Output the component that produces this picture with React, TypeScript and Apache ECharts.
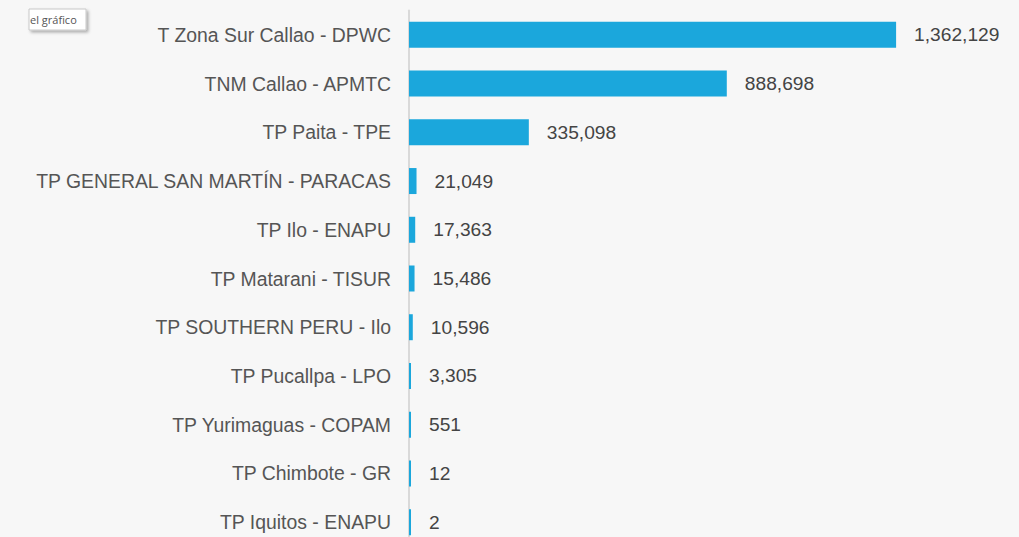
import React, { useEffect, useRef } from "react";
import * as echarts from "echarts";

const categories = [
  "T Zona Sur Callao - DPWC",
  "TNM Callao - APMTC",
  "TP Paita - TPE",
  "TP GENERAL SAN MARTÍN - PARACAS",
  "TP Ilo - ENAPU",
  "TP Matarani - TISUR",
  "TP SOUTHERN PERU - Ilo",
  "TP Pucallpa - LPO",
  "TP Yurimaguas - COPAM",
  "TP Chimbote - GR",
  "TP Iquitos - ENAPU",
];
const values = [1362129, 888698, 335098, 21049, 17363, 15486, 10596, 3305, 551, 12, 2];

export default function App() {
  const ref = useRef<HTMLDivElement>(null);
  useEffect(() => {
    if (!ref.current) return;
    const chart = echarts.init(ref.current, undefined, { renderer: "svg" });
    chart.setOption({
      animation: false,
      backgroundColor: "#f7f7f7",
      grid: { left: 409, top: 10.5, width: 560, height: 536 },
      xAxis: {
        type: "value",
        min: 0,
        max: 1566000,
        show: false,
      },
      yAxis: {
        type: "category",
        inverse: true,
        data: categories,
        axisLine: { show: true, lineStyle: { color: "#d9d9d9", width: 2 } },
        axisTick: { show: false },
        axisLabel: {
          margin: 18,
          fontSize: 19.4,
          color: "#555555",
          fontFamily: "Liberation Sans, Arial, sans-serif",
        },
      },
      series: [
        {
          type: "bar",
          data: values,
          barWidth: 26,
          barMinHeight: 2,
          itemStyle: { color: "#1ba7dc" },
          label: {
            show: true,
            position: "right",
            distance: 18,
            fontSize: 19.2,
            color: "#444444",
            fontFamily: "Liberation Sans, Arial, sans-serif",
            formatter: (p: any) => Number(p.value).toLocaleString("en-US"),
          },
        },
      ],
      graphic: [
        {
          type: "rect",
          shape: { x: 29, y: 9, width: 57, height: 21 },
          style: {
            fill: "#ffffff",
            stroke: "#c8c8c8",
            lineWidth: 1,
            shadowBlur: 3,
            shadowOffsetX: 2,
            shadowOffsetY: 2,
            shadowColor: "rgba(0,0,0,0.3)",
          },
        },
        {
          type: "text",
          x: 30,
          y: 19.5,
          style: {
            text: "el gráfico",
            fontSize: 11,
            fill: "#555555",
            fontFamily: "Open Sans, sans-serif",
            verticalAlign: "middle",
          },
        },
      ],
    });
    return () => chart.dispose();
  }, []);
  return (
    <div
      ref={ref}
      style={{ position: "fixed", left: 0, top: 0, width: 1019, height: 560 }}
    />
  );
}
